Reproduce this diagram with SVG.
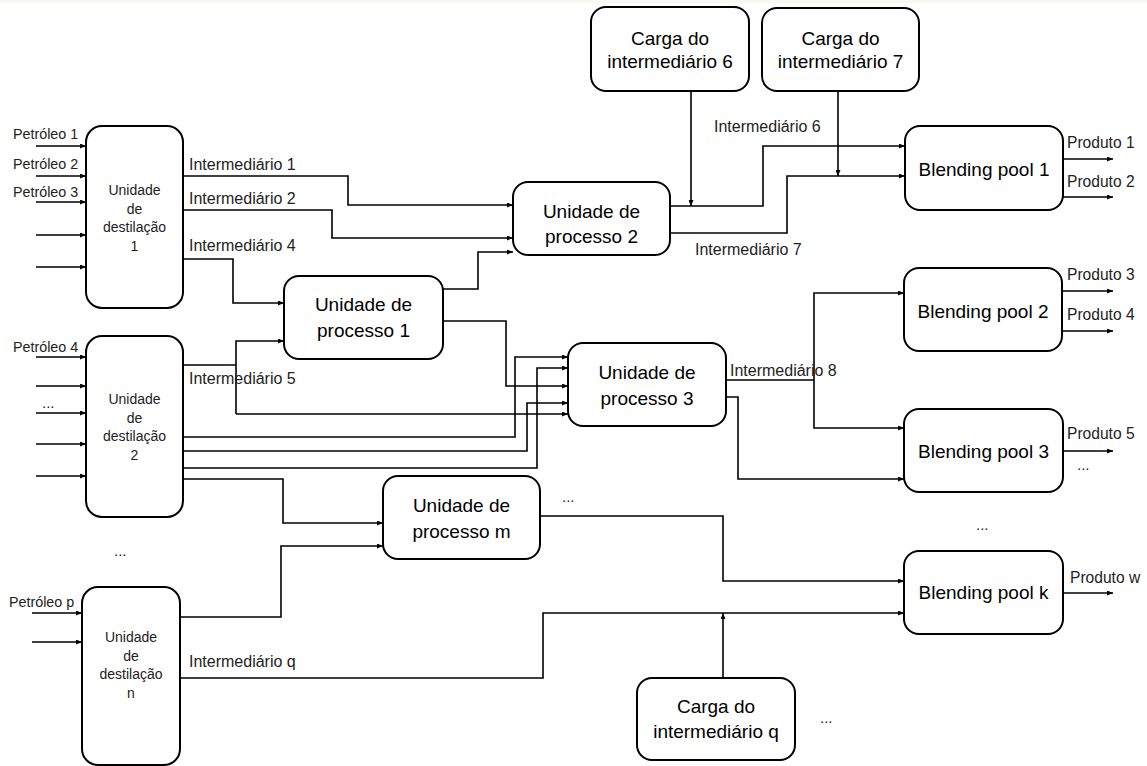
<svg xmlns="http://www.w3.org/2000/svg" width="1147" height="766" viewBox="0 0 1147 766">
<defs>
<style>
.box{fill:#fff;stroke:#000;stroke-width:2}
.ln{fill:none;stroke:#000;stroke-width:1.6}
.ar{marker-end:url(#ah)}
text{font-family:"Liberation Sans",Arial,sans-serif;fill:#000}
.big{font-size:19px;text-anchor:middle}
.dist{font-size:14px;text-anchor:middle;fill:#222}
.pet{font-size:14.3px;fill:#222}
.int{font-size:16px;fill:#222}
.prod{font-size:15.6px;fill:#222}
.dots{font-size:15px;fill:#222}
</style>
<marker id="ah" viewBox="0 0 6 5" refX="6" refY="2.5" markerWidth="6" markerHeight="5" markerUnits="userSpaceOnUse" orient="auto">
<path d="M0,0 L6,2.5 L0,5 z" fill="#000"/>
</marker>
</defs>
<rect x="0" y="0" width="1147" height="766" fill="#fff"/>
<rect x="0" y="0" width="1147" height="3" fill="#fbf8f0"/>

<g id="connectors">
<path class="ln ar" d="M36,146 H86"/>
<path class="ln ar" d="M36,176 H86"/>
<path class="ln ar" d="M36,202 H86"/>
<path class="ln ar" d="M36,235 H86"/>
<path class="ln ar" d="M36,267 H86"/>
<path class="ln ar" d="M36,357 H86"/>
<path class="ln ar" d="M36,386 H86"/>
<path class="ln ar" d="M36,413 H86"/>
<path class="ln ar" d="M36,444 H86"/>
<path class="ln ar" d="M36,476 H86"/>
<path class="ln ar" d="M32,613 H82"/>
<path class="ln ar" d="M32,642 H82"/>
<path class="ln ar" d="M183,176 H348 V205 H513"/>
<path class="ln ar" d="M183,210 H332 V238 H513"/>
<path class="ln ar" d="M183,259 H233 V303 H284"/>
<path class="ln ar" d="M443,289 H478 V252 H513"/>
<path class="ln ar" d="M443,321 H506 V386 H568"/>
<path class="ln" d="M183,365 H236"/>
<path class="ln ar" d="M236,414 V341 H284"/>
<path class="ln ar" d="M236,414 H568"/>
<path class="ln ar" d="M183,437 H515 V357 H568"/>
<path class="ln ar" d="M183,451 H527 V403 H568"/>
<path class="ln ar" d="M183,468 H537 V368 H568"/>
<path class="ln ar" d="M183,479 H283 V523 H383"/>
<path class="ln ar" d="M180,617 H281 V546 H383"/>
<path class="ln ar" d="M180,678 H543 V613 H904"/>
<path class="ln ar" d="M670,206 H763 V146 H905"/>
<path class="ln ar" d="M670,233 H787 V176 H905"/>
<path class="ln ar" d="M691,91 V206"/>
<path class="ln ar" d="M838,91 V176"/>
<path class="ln ar" d="M723,678 V613"/>
<path class="ln" d="M726,380 H814"/>
<path class="ln ar" d="M814,380 V293 H904"/>
<path class="ln ar" d="M814,380 V428 H904"/>
<path class="ln ar" d="M726,397 H738 V479 H904"/>
<path class="ln ar" d="M540,516 H723 V581 H904"/>
<path class="ln ar" d="M1063,159 H1113"/>
<path class="ln ar" d="M1063,197 H1113"/>
<path class="ln ar" d="M1062,291 H1113"/>
<path class="ln ar" d="M1062,331 H1113"/>
<path class="ln ar" d="M1063,451 H1113"/>
<path class="ln ar" d="M1063,593 H1113"/>
</g>

<g id="labels">
<text class="pet" x="13" y="139">Petróleo 1</text>
<text class="pet" x="13" y="169">Petróleo 2</text>
<text class="pet" x="13" y="197">Petróleo 3</text>
<text class="pet" x="13" y="352">Petróleo 4</text>
<text class="dots" x="42" y="408">...</text>
<text class="pet" x="9" y="607">Petróleo p</text>
<text class="dots" x="114" y="556">...</text>
<text class="int" x="189" y="170">Intermediário 1</text>
<text class="int" x="189" y="204">Intermediário 2</text>
<text class="int" x="189" y="251">Intermediário 4</text>
<text class="int" x="189" y="384">Intermediário 5</text>
<text class="int" x="189" y="667">Intermediário q</text>
<text class="int" x="714" y="132">Intermediário 6</text>
<text class="int" x="695" y="255">Intermediário 7</text>
<text class="int" x="730" y="376">Intermediário 8</text>
<text class="prod" x="1067" y="148">Produto 1</text>
<text class="prod" x="1067" y="187">Produto 2</text>
<text class="prod" x="1067" y="280">Produto 3</text>
<text class="prod" x="1067" y="320">Produto 4</text>
<text class="prod" x="1067" y="439">Produto 5</text>
<text class="dots" x="1077" y="470">...</text>
<text class="dots" x="976" y="530">...</text>
<text class="prod" x="1070" y="583">Produto w</text>
<text class="dots" x="562" y="502">...</text>
<text class="dots" x="820" y="723">...</text>
</g>

<g id="dist1">
<rect class="box" x="86" y="126" width="97" height="182" rx="16"/>
<text class="dist" x="134.5" y="195">Unidade</text>
<text class="dist" x="134.5" y="214">de</text>
<text class="dist" x="134.5" y="232">destilação</text>
<text class="dist" x="134.5" y="251">1</text>
</g>
<g id="dist2">
<rect class="box" x="86" y="336" width="97" height="181" rx="16"/>
<text class="dist" x="134.5" y="404">Unidade</text>
<text class="dist" x="134.5" y="423">de</text>
<text class="dist" x="134.5" y="441">destilação</text>
<text class="dist" x="134.5" y="460">2</text>
</g>
<g id="distn">
<rect class="box" x="82" y="587" width="98" height="178" rx="16"/>
<text class="dist" x="131" y="642">Unidade</text>
<text class="dist" x="131" y="661">de</text>
<text class="dist" x="131" y="679">destilação</text>
<text class="dist" x="131" y="698">n</text>
</g>
<g id="proc1">
<rect class="box" x="284" y="276" width="159" height="83" rx="15"/>
<text class="big" x="363.5" y="311">Unidade de</text>
<text class="big" x="363.5" y="337">processo 1</text>
</g>
<g id="proc2">
<rect class="box" x="513" y="182" width="157" height="73" rx="15"/>
<text class="big" x="591.5" y="218">Unidade de</text>
<text class="big" x="591.5" y="243">processo 2</text>
</g>
<g id="proc3">
<rect class="box" x="568" y="343" width="158" height="83" rx="15"/>
<text class="big" x="647" y="379">Unidade de</text>
<text class="big" x="647" y="405">processo 3</text>
</g>
<g id="procm">
<rect class="box" x="383" y="476" width="157" height="83" rx="15"/>
<text class="big" x="461.5" y="512">Unidade de</text>
<text class="big" x="461.5" y="538">processo m</text>
</g>
<g id="carga6">
<rect class="box" x="591" y="7" width="158" height="84" rx="15"/>
<text class="big" x="670" y="45">Carga do</text>
<text class="big" x="670" y="68">intermediário 6</text>
</g>
<g id="carga7">
<rect class="box" x="762" y="8" width="157" height="83" rx="15"/>
<text class="big" x="840.5" y="45">Carga do</text>
<text class="big" x="840.5" y="68">intermediário 7</text>
</g>
<g id="cargaq">
<rect class="box" x="637" y="678" width="158" height="82" rx="15"/>
<text class="big" x="716" y="713">Carga do</text>
<text class="big" x="716" y="738">intermediário q</text>
</g>
<g id="bp1">
<rect class="box" x="905" y="126" width="158" height="84" rx="15"/>
<text class="big" x="984" y="176">Blending pool 1</text>
</g>
<g id="bp2">
<rect class="box" x="904" y="268" width="158" height="83" rx="15"/>
<text class="big" x="983" y="318">Blending pool 2</text>
</g>
<g id="bp3">
<rect class="box" x="904" y="409" width="159" height="83" rx="15"/>
<text class="big" x="983.5" y="458">Blending pool 3</text>
</g>
<g id="bpk">
<rect class="box" x="904" y="551" width="159" height="83" rx="15"/>
<text class="big" x="983.5" y="599">Blending pool k</text>
</g>
</svg>
